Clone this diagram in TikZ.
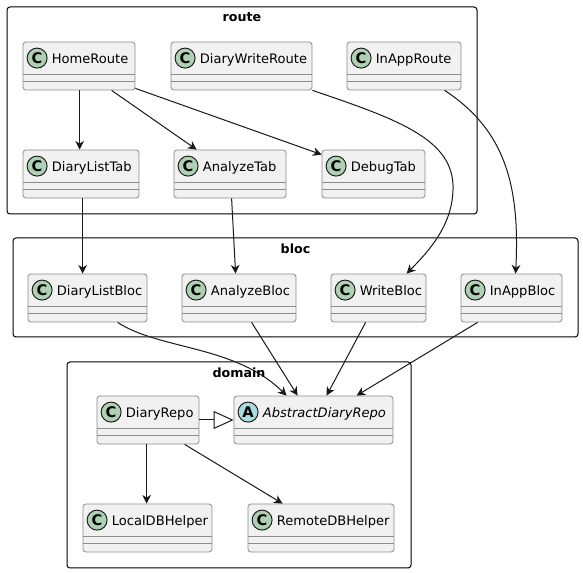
\documentclass[tikz,border=0pt]{standalone}
\usepackage{fontspec}
\setmainfont{DejaVu Sans}
\usetikzlibrary{arrows.meta,calc,fit}
\definecolor{classfill}{HTML}{F1F1F1}
\definecolor{umlline}{HTML}{181818}
\definecolor{classborder}{HTML}{8C8C8C}
\definecolor{cgreen}{HTML}{ADD1B2}
\definecolor{acyan}{HTML}{A9DCDF}
\tikzset{
 classbox/.style={draw=classborder, line width=0.6pt, fill=classfill, rounded corners=2.2pt, inner sep=0pt},
 sepline/.style={draw=classborder, line width=0.6pt},
 pkg/.style={draw=black, fill=white, line width=0.75pt, rounded corners=2.2pt, inner sep=0pt},
 pkgtitle/.style={font=\bfseries\fontsize{9.5}{11}\selectfont, inner sep=0pt},
 classname/.style={anchor=base west, inner sep=0pt, font=\fontsize{9.8}{12}\selectfont},
 badge/.style={circle, draw=umlline, line width=0.7pt, minimum size=15pt, inner sep=0pt, font=\bfseries\fontsize{11}{12}\selectfont},
 dep/.style={draw=umlline, line width=0.75pt, -{Stealth[length=6.5pt,width=6.5pt,inset=2pt]}},
 ext/.style={draw=umlline, line width=0.75pt, -{Triangle[length=15pt,width=13.5pt,open,fill=white]}},
}
\newcommand\umlclass[7]{%
 \node[classbox, fit={(#2,#3) (#4,#3+48)}] (#1) {};
 \draw[sepline] ($(#1.north west)+(0,33)$) -- ($(#1.north east)+(0,33)$);
 \draw[sepline] ($(#1.north west)+(0,40)$) -- ($(#1.north east)+(0,40)$);
 \node[badge, fill=#7] (#1-badge) at ($(#1.north west)+(14.5,16.5)$) {#6};
 \node[classname] (#1-name) at ($(#1.north west)+(29,22)$) {#5};
}
\begin{document}
\begin{tikzpicture}[x=0.75pt,y=-0.75pt]
\useasboundingbox (0,0) rectangle (583,573);
% packages
\node[pkg, fit={(7,7) (477,214)}] (route) {};
\node[pkgtitle] (route-title) at ($(route.north)+(0,11)$) {route};
\node[pkg, fit={(13,238) (578,337)}] (bloc) {};
\node[pkgtitle] (bloc-title) at ($(bloc.north)+(0,11)$) {bloc};
\node[pkg, fit={(67,362) (411,568)}] (domain) {};
\node[pkgtitle] (domain-title) at ($(domain.north)+(0,11)$) {domain};
% route classes
\umlclass{HomeRoute}{23}{42}{135}{HomeRoute}{C}{cgreen}
\umlclass{DiaryWriteRoute}{171}{42}{312}{DiaryWriteRoute}{C}{cgreen}
\umlclass{InAppRoute}{347}{42}{461}{InAppRoute}{C}{cgreen}
\umlclass{DiaryListTab}{23}{150}{139}{DiaryListTab}{C}{cgreen}
\umlclass{AnalyzeTab}{174}{150}{286}{AnalyzeTab}{C}{cgreen}
\umlclass{DebugTab}{322}{150}{425}{DebugTab}{C}{cgreen}
% bloc classes
\umlclass{DiaryListBloc}{28}{274}{147}{DiaryListBloc}{C}{cgreen}
\umlclass{AnalyzeBloc}{182}{274}{296}{AnalyzeBloc}{C}{cgreen}
\umlclass{WriteBloc}{331}{274}{426}{WriteBloc}{C}{cgreen}
\umlclass{InAppBloc}{461}{274}{562}{InAppBloc}{C}{cgreen}
% domain classes
\umlclass{DiaryRepo}{97}{396}{199}{DiaryRepo}{C}{cgreen}
\umlclass{AbstractDiaryRepo}{234}{396}{393}{\itshape AbstractDiaryRepo}{A}{acyan}
\umlclass{LocalDBHelper}{83}{504}{212}{LocalDBHelper}{C}{cgreen}
\umlclass{RemoteDBHelper}{248}{504}{394}{RemoteDBHelper}{C}{cgreen}
% connectors
\draw[dep] ($(HomeRoute.south west)+(57,0)$) -- ($(DiaryListTab.north west)+(57,0)$);
\draw[dep] ($(HomeRoute.south west)+(89,0)$) -- ($(AnalyzeTab.north west)+(23,0)$);
\draw[dep] ($(HomeRoute.south east)+(0,-2)$) -- ($(DebugTab.north west)+(0,5)$);
\draw[dep] ($(DiaryListTab.south west)+(60,0)$) -- ($(DiaryListBloc.north west)+(55,0)$);
\draw[dep] ($(AnalyzeTab.south west)+(58,0)$) -- ($(AnalyzeBloc.north west)+(54,0)$);
\draw[dep] (DiaryWriteRoute.south east) .. controls (400,120) and (455,140) .. (453,190)
   .. controls (452,225) and (430,250) .. ($(WriteBloc.north west)+(76,0)$);
\draw[dep] ($(InAppRoute.south west)+(98,0)$) .. controls (505,130) and (520,185) .. ($(InAppBloc.north west)+(55,0)$);
\draw[dep] ($(DiaryListBloc.south west)+(90,0)$) .. controls (160,350) and (235,345) .. ($(AbstractDiaryRepo.north west)+(53,0)$);
\draw[dep] ($(AnalyzeBloc.south west)+(70,0)$) -- ($(AbstractDiaryRepo.north west)+(64,0)$);
\draw[dep] ($(WriteBloc.south west)+(35,0)$) -- ($(AbstractDiaryRepo.north west)+(93,0)$);
\draw[dep] ($(InAppBloc.south west)+(17,0)$) -- ($(AbstractDiaryRepo.north west)+(123,0)$);
\draw[ext] (DiaryRepo.east) -- (AbstractDiaryRepo.west);
\draw[dep] ($(DiaryRepo.south west)+(50,0)$) -- ($(LocalDBHelper.north west)+(64,0)$);
\draw[dep] ($(DiaryRepo.south west)+(88,0)$) -- ($(RemoteDBHelper.north west)+(35,0)$);
\end{tikzpicture}
\end{document}
